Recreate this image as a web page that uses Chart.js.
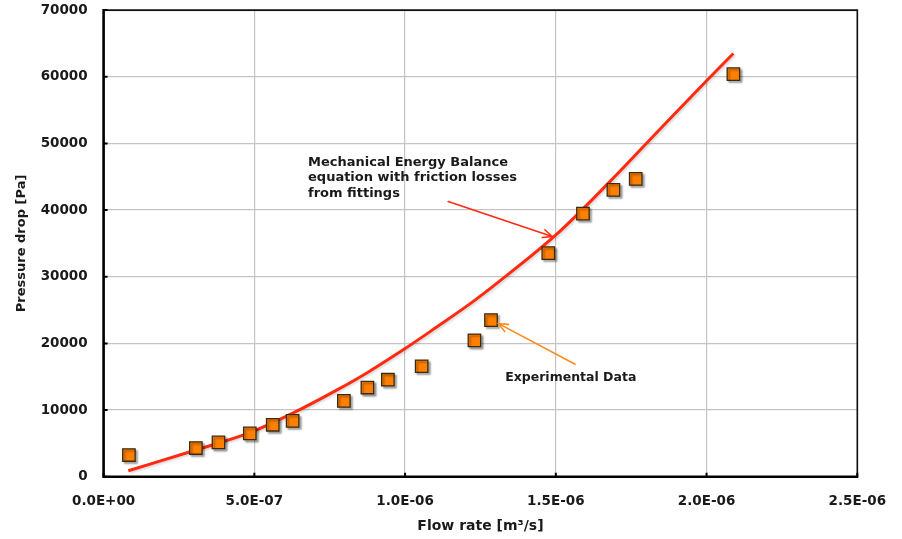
<!DOCTYPE html>
<html><head><meta charset="utf-8">
<script src="https://cdn.jsdelivr.net/npm/chart.js@4.4.1/dist/chart.umd.min.js"></script>
<style>html,body{margin:0;padding:0;background:#fff}canvas{display:block}</style>
</head><body>
<canvas id="c" width="902" height="539"></canvas>
<script>
// ---- data ----
const expFlow = [0.084e-6, 0.306e-6, 0.381e-6, 0.485e-6, 0.561e-6, 0.627e-6, 0.797e-6, 0.875e-6, 0.943e-6, 1.055e-6, 1.230e-6, 1.285e-6, 1.475e-6, 1.590e-6, 1.691e-6, 1.765e-6, 2.089e-6];
const expDrop = [3250, 4300, 5150, 6500, 7790, 8380, 11380, 13380, 14550, 16570, 20460, 23500, 33550, 39470, 43030, 44670, 60390];
const modelFlow = [0.082e-6, 0.306e-6, 0.485e-6, 0.624e-6, 0.773e-6, 0.873e-6, 1.0e-6, 1.105e-6, 1.216e-6, 1.304e-6, 1.501e-6, 1.680e-6, 1.857e-6, 2.0e-6, 2.089e-6];
const modelDrop = [900, 4000, 6600, 9450, 12980, 15570, 19220, 22460, 25960, 29000, 36300, 44300, 52700, 59400, 63500];
const xTickLabels = ['0.0E+00', '5.0E-07', '1.0E-06', '1.5E-06', '2.0E-06', '2.5E-06'];
const yTickLabels = ['0', '10000', '20000', '30000', '40000', '50000', '60000', '70000'];
const xTitle = 'Flow rate [m³/s]';
const yTitle = 'Pressure drop [Pa]';
const modelNoteLines = ['Mechanical Energy Balance', 'equation with friction losses', 'from fittings'];
const modelNoteAt = [0.678e-6, 47160, 2350];        // x, first line y, line step (data units)
const expNoteLines = ['Experimental Data'];
const expNoteAt = [1.332e-6, 14780, 0];
const modelArrow = [1.143e-6, 41270, 1.488e-6, 36030];
const expArrow = [1.564e-6, 16870, 1.310e-6, 22960];

const FONT = '"DejaVu Sans", "Liberation Sans", Arial, sans-serif';

const pts = expFlow.map((x, i) => ({x, y: expDrop[i]}));
const line = modelFlow.map((x, i) => ({x, y: modelDrop[i]}));

const shadowPlugin = {
  id: 'shadows',
  beforeDatasetDraw(chart, args) {
    const ctx = chart.ctx;
    ctx.save();
    if (args.index === 0) {
      ctx.shadowColor = 'rgba(0,0,0,0.35)';
      ctx.shadowBlur = 2; ctx.shadowOffsetX = 2; ctx.shadowOffsetY = 2;
    } else {
      ctx.shadowColor = 'rgba(0,0,0,0.15)';
      ctx.shadowBlur = 2; ctx.shadowOffsetX = 1.5; ctx.shadowOffsetY = 1.5;
    }
  },
  afterDatasetDraw(chart) { chart.ctx.restore(); }
};

function arrow(ctx, x0, y0, x1, y1, color) {
  ctx.save();
  ctx.strokeStyle = color; ctx.lineWidth = 1.6; ctx.lineCap = 'round';
  ctx.beginPath(); ctx.moveTo(x0, y0); ctx.lineTo(x1, y1); ctx.stroke();
  const a = Math.atan2(y1 - y0, x1 - x0), L = 10, w = 0.42;
  ctx.beginPath();
  ctx.moveTo(x1 - L * Math.cos(a - w), y1 - L * Math.sin(a - w));
  ctx.lineTo(x1, y1);
  ctx.lineTo(x1 - L * Math.cos(a + w), y1 - L * Math.sin(a + w));
  ctx.stroke();
  ctx.restore();
}

const framePlugin = {
  id: 'frame',
  beforeDatasetsDraw(chart) {
    const {ctx, chartArea: a, scales: {x, y}} = chart;
    ctx.save();
    ctx.strokeStyle = '#111';
    ctx.lineWidth = 1.6;
    ctx.beginPath();
    ctx.moveTo(a.left, a.top); ctx.lineTo(a.right, a.top); ctx.lineTo(a.right, a.bottom);
    ctx.stroke();
    ctx.lineWidth = 2.6; ctx.strokeStyle = '#000';
    ctx.beginPath();
    ctx.moveTo(a.left, a.top - 1); ctx.lineTo(a.left, a.bottom); ctx.lineTo(a.right + 1, a.bottom);
    ctx.stroke();
    ctx.lineWidth = 2;
    ctx.beginPath();
    y.ticks.forEach(t => { const p = y.getPixelForValue(t.value); ctx.moveTo(a.left, p); ctx.lineTo(a.left + 4, p); });
    x.ticks.forEach(t => { const p = x.getPixelForValue(t.value); ctx.moveTo(p, a.bottom); ctx.lineTo(p, a.bottom - 4); });
    ctx.stroke();
    ctx.restore();
  },
  afterDraw(chart) {
    const {ctx, scales: {x, y}} = chart;
    const P = (vx, vy) => [x.getPixelForValue(vx), y.getPixelForValue(vy)];
    let s = P(modelArrow[0], modelArrow[1]), e = P(modelArrow[2], modelArrow[3]);
    arrow(ctx, s[0], s[1], e[0], e[1], '#ff2a10');
    s = P(expArrow[0], expArrow[1]); e = P(expArrow[2], expArrow[3]);
    arrow(ctx, s[0], s[1], e[0], e[1], '#ff8a1c');
    ctx.save();
    ctx.fillStyle = '#1a1a1a';
    ctx.textBaseline = 'middle'; ctx.textAlign = 'left';
    ctx.font = 'bold 13px ' + FONT;
    modelNoteLines.forEach((t, i) => { const p = P(modelNoteAt[0], modelNoteAt[1] - i * modelNoteAt[2]); ctx.fillText(t, p[0], p[1]); });
    ctx.font = 'bold 12.5px ' + FONT;
    expNoteLines.forEach((t, i) => { const p = P(expNoteAt[0], expNoteAt[1] - i * expNoteAt[2]); ctx.fillText(t, p[0], p[1]); });
    ctx.restore();
  }
};

new Chart(document.getElementById('c'), {
  type: 'scatter',
  data: {
    datasets: [
      {
        label: 'Experimental Data',
        data: pts,
        pointStyle: 'rect',
        pointRadius: 8.8,
        pointHoverRadius: 8.8,
        backgroundColor: '#ff7f00',
        borderColor: '#3b2a12',
        borderWidth: 1.3,
        order: 0
      },
      {
        label: 'Mechanical Energy Balance',
        data: line,
        showLine: true,
        pointRadius: 0,
        borderColor: '#ff2a10',
        borderWidth: 3,
        cubicInterpolationMode: 'monotone',
        fill: false,
        order: 1
      }
    ]
  },
  options: {
    responsive: false,
    animation: false,
    events: [],
    layout: {padding: {left: 0, top: 9, right: 44.7, bottom: 0}},
    plugins: {legend: {display: false}, tooltip: {enabled: false}},
    scales: {
      x: {
        type: 'linear', min: 0, max: 2.5e-6,
        afterFit(s) { s.height = 539 - 476.7; s.paddingLeft = 0; s.paddingRight = 0; },
        afterBuildTicks(s) { s.ticks = xTickLabels.map((_, i) => ({value: i * 5e-7})); },
        ticks: {
          autoSkip: false, maxRotation: 0, padding: 17, color: '#1a1a1a',
          font: {family: FONT, size: 13.5, weight: 'bold'},
          callback: (v, i) => xTickLabels[i]
        },
        grid: {color: '#c4c4c4', lineWidth: 1.2, drawTicks: false},
        border: {display: false},
        title: {display: true, text: xTitle, color: '#1a1a1a', padding: {top: 0, bottom: 4},
                font: {family: FONT, size: 14, weight: 'bold'}}
      },
      y: {
        type: 'linear', min: 0, max: 70000,
        afterFit(s) { s.width = 103.6; s.paddingTop = 0; s.paddingBottom = 0; },
        afterBuildTicks(s) { s.ticks = yTickLabels.map((_, i) => ({value: i * 10000})); },
        ticks: {
          autoSkip: false, padding: 16, color: '#1a1a1a',
          font: {family: FONT, size: 13.5, weight: 'bold'},
          callback: (v, i) => yTickLabels[i]
        },
        grid: {color: '#c4c4c4', lineWidth: 1.2, drawTicks: false},
        border: {display: false},
        title: {display: true, text: yTitle, color: '#1a1a1a', padding: {top: 14, bottom: 0},
                font: {family: FONT, size: 13, weight: 'bold'}}
      }
    }
  },
  plugins: [shadowPlugin, framePlugin]
});
</script>
</body></html>
